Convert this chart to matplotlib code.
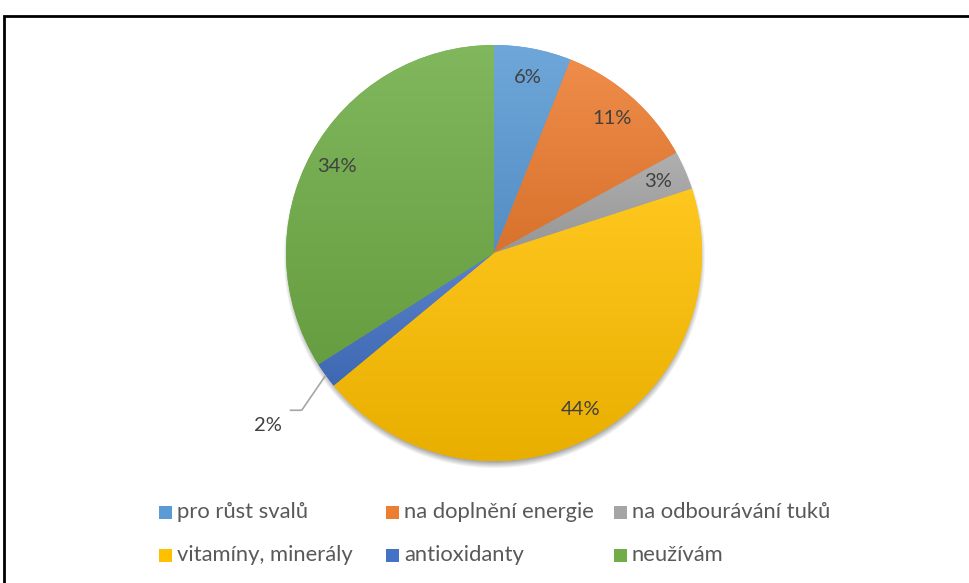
import numpy as np
import matplotlib
matplotlib.use("Agg")
import matplotlib.pyplot as plt
from matplotlib.colors import to_rgb
from matplotlib.patches import Rectangle

plt.rcParams['font.family'] = ['Lato', 'DejaVu Sans']

# Data
categories = ["pro růst svalů", "na doplnění energie", "na odbourávání tuků",
              "vitamíny, minerály", "antioxidanty", "neužívám"]
shares = [6, 11, 3, 44, 2, 34]
colors = ["#5B9BD5", "#ED7D31", "#A5A5A5", "#FFC000", "#4472C4", "#70AD47"]

W, H = 969, 583
fig = plt.figure(figsize=(W / 100, H / 100), dpi=100)
ax = fig.add_axes([0, 0, 1, 1])

# pie geometry in pixel units (y measured upward)
CX, CY, R = 494, H - 253, 208

# soft drop shadow under the pie
yy, xx = np.mgrid[0:H, 0:W]
d = np.hypot(xx - CX, (H - 1 - yy) - (CY - 5))
a = np.clip((R + 3 - d) / 8.0, 0, 1) * 0.6
shadow = np.zeros((H, W, 4))
shadow[..., :3] = 0.33
shadow[..., 3] = a
ax.imshow(shadow, extent=(0, W, 0, H), origin="upper", zorder=1, interpolation="bilinear")

wedges, _ = ax.pie(shares, colors=colors, startangle=90, counterclock=False,
                   center=(CX, CY), radius=R, wedgeprops=dict(linewidth=0),
                   normalize=True)


def shade(c, f):
    c = np.array(to_rgb(c))
    if f >= 0:
        return c + (1 - c) * f
    return c * (1 + f)


# vertical gradient fill clipped to each wedge
for w, c in zip(wedges, colors):
    w.set_zorder(2)
    t = np.radians(np.linspace(w.theta1, w.theta2, 200))
    xs = np.concatenate([[CX], CX + R * np.cos(t)])
    ys = np.concatenate([[CY], CY + R * np.sin(t)])
    x0, x1, y0, y1 = xs.min(), xs.max(), ys.min(), ys.max()
    top, bot = shade(c, 0.12), shade(c, -0.09)
    f = np.linspace(0, 1, 256)[:, None]
    grad = top[None, :] * (1 - f) + bot[None, :] * f
    img = np.repeat(grad[:, None, :], 2, axis=1)
    im = ax.imshow(img, extent=(x0 - 1, x1 + 1, y0 - 1, y1 + 1), origin="upper",
                   zorder=3, interpolation="bilinear", aspect="auto")
    im.set_clip_path(w)

# percentage labels
label_color = "#404040"
for w, v in zip(wedges, shares):
    mid = np.radians((w.theta1 + w.theta2) / 2)
    txt = f"{v}%"
    if v >= 3:
        r = 0.86 * R
        ax.text(CX + r * np.cos(mid), CY + r * np.sin(mid), txt, ha="center",
                va="center", fontsize=14.5, color=label_color, zorder=5)
    else:
        ex, ey = CX + R * np.cos(mid), CY + R * np.sin(mid)
        kx, ky = ex - 24, ey - 35
        lx = kx - 12
        ax.plot([ex, kx, lx], [ey, ky, ky], color="#A6A6A6", lw=1.2,
                zorder=4, solid_capstyle="butt")
        ax.text(lx - 22, ky - 15, txt, ha="center", va="center", fontsize=14.5,
                color=label_color, zorder=5)

# legend, two rows of three entries
col_x = [159, 386, 614]
row_y = [H - 512, H - 555]
for i, (name, c) in enumerate(zip(categories, colors)):
    x = col_x[i % 3]
    y = row_y[i // 3]
    ax.add_patch(Rectangle((x, y - 6.5), 13, 13, facecolor=shade(c, 0.0),
                           edgecolor="none", zorder=5))
    ax.text(x + 18, y, name, ha="left", va="center", fontsize=15.8,
            color="#595959", zorder=5)

# chart border
ax.add_patch(Rectangle((4.5, -10), W + 20, H - 15.5 + 10, fill=False,
                       edgecolor="black", lw=2, zorder=6))

ax.set_xlim(0, W)
ax.set_ylim(0, H)
ax.set_aspect("auto")
ax.axis("off")

fig.savefig("out.png", dpi=100, facecolor="white")
